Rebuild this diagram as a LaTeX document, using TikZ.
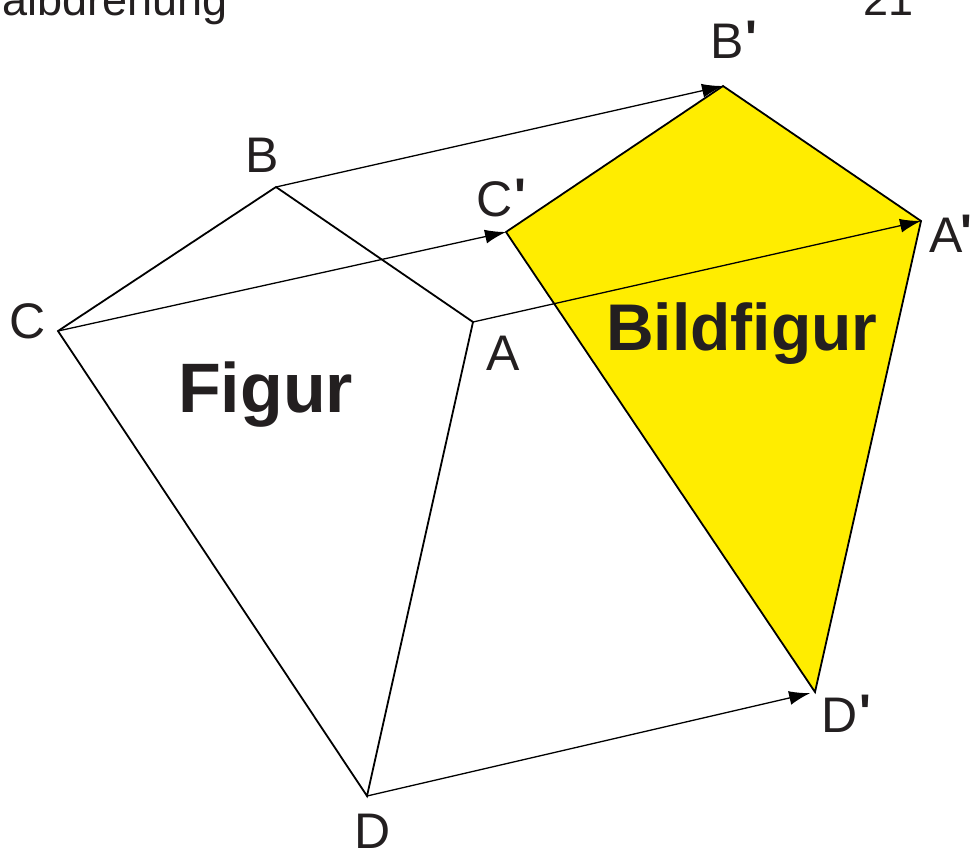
\documentclass[tikz,border=0pt]{standalone}
\usepackage{fontspec}
\setmainfont{Liberation Sans}
\usetikzlibrary{arrows.meta}
\definecolor{figyellow}{RGB}{255,237,0}
\definecolor{txt}{RGB}{35,31,32}
\newcommand{\primemark}[1][2pt]{{\bfseries\kern#1\raisebox{3pt}{\textquotesingle}}}
\tikzset{
  edge/.style={line width=1.8pt, line join=miter, black},
  mover/.style={line width=1.3pt, black, -{Latex[length=21pt,width=14pt]}},
  ptlabel/.style={anchor=base, inner sep=0pt, text=txt, font=\fontsize{50}{60}\selectfont},
  bigtitle/.style={anchor=base west, inner sep=0pt, text=txt, font=\fontsize{70}{84}\selectfont\bfseries},
  headtext/.style={inner sep=0pt, text=txt, font=\fontsize{45}{54}\selectfont}
}
\begin{document}
\begin{tikzpicture}[x=1pt,y=-1pt]
\useasboundingbox (0,0) rectangle (971,849);
% original figure
\coordinate (A) at (473,322);
\coordinate (B) at (276,187);
\coordinate (C) at (58,331);
\coordinate (D) at (367,796);
% image figure
\coordinate (A1) at (921,221);
\coordinate (B1) at (723,86);
\coordinate (C1) at (506,232);
\coordinate (D1) at (815,692);
% image fill
\fill[figyellow] (A1) -- (B1) -- (C1) -- (D1) -- cycle;
% translation arrows
\draw[mover] (B) -- (B1);
\draw[mover] (C) -- (C1);
\draw[mover] (A) -- (A1);
\draw[mover, shorten >=5pt] (D) -- (D1);
% outlines
\draw[edge] (A) -- (B) -- (C) -- (D) -- cycle;
\draw[edge] (A1) -- (B1) -- (C1) -- (D1) -- cycle;
% labels
\node[ptlabel] (lA) at (503,370) {A};
\node[ptlabel] (lB) at (262,172) {B};
\node[ptlabel] (lC) at (28,338) {C};
\node[ptlabel] (lD) at (373,848) {D};
\node[ptlabel, anchor=base west] (lA1) at (929,252) {A\primemark[-2pt]};
\node[ptlabel, anchor=base west] (lB1) at (710,58) {B\primemark};
\node[ptlabel, anchor=base west] (lC1) at (476,216) {C\primemark};
\node[ptlabel, anchor=base west] (lD1) at (821,732) {D\primemark};
\node[bigtitle] (fig) at (178,412) {Figur};
\node[bigtitle, font=\fontsize{66}{78}\selectfont\bfseries] (bild) at (606,350) {Bildfigur};
% header
\node[headtext, anchor=base east] (head) at (228,15) {Halbdrehung};
\node[headtext, anchor=base east] (page) at (914,15) {21};
\end{tikzpicture}
\end{document}
